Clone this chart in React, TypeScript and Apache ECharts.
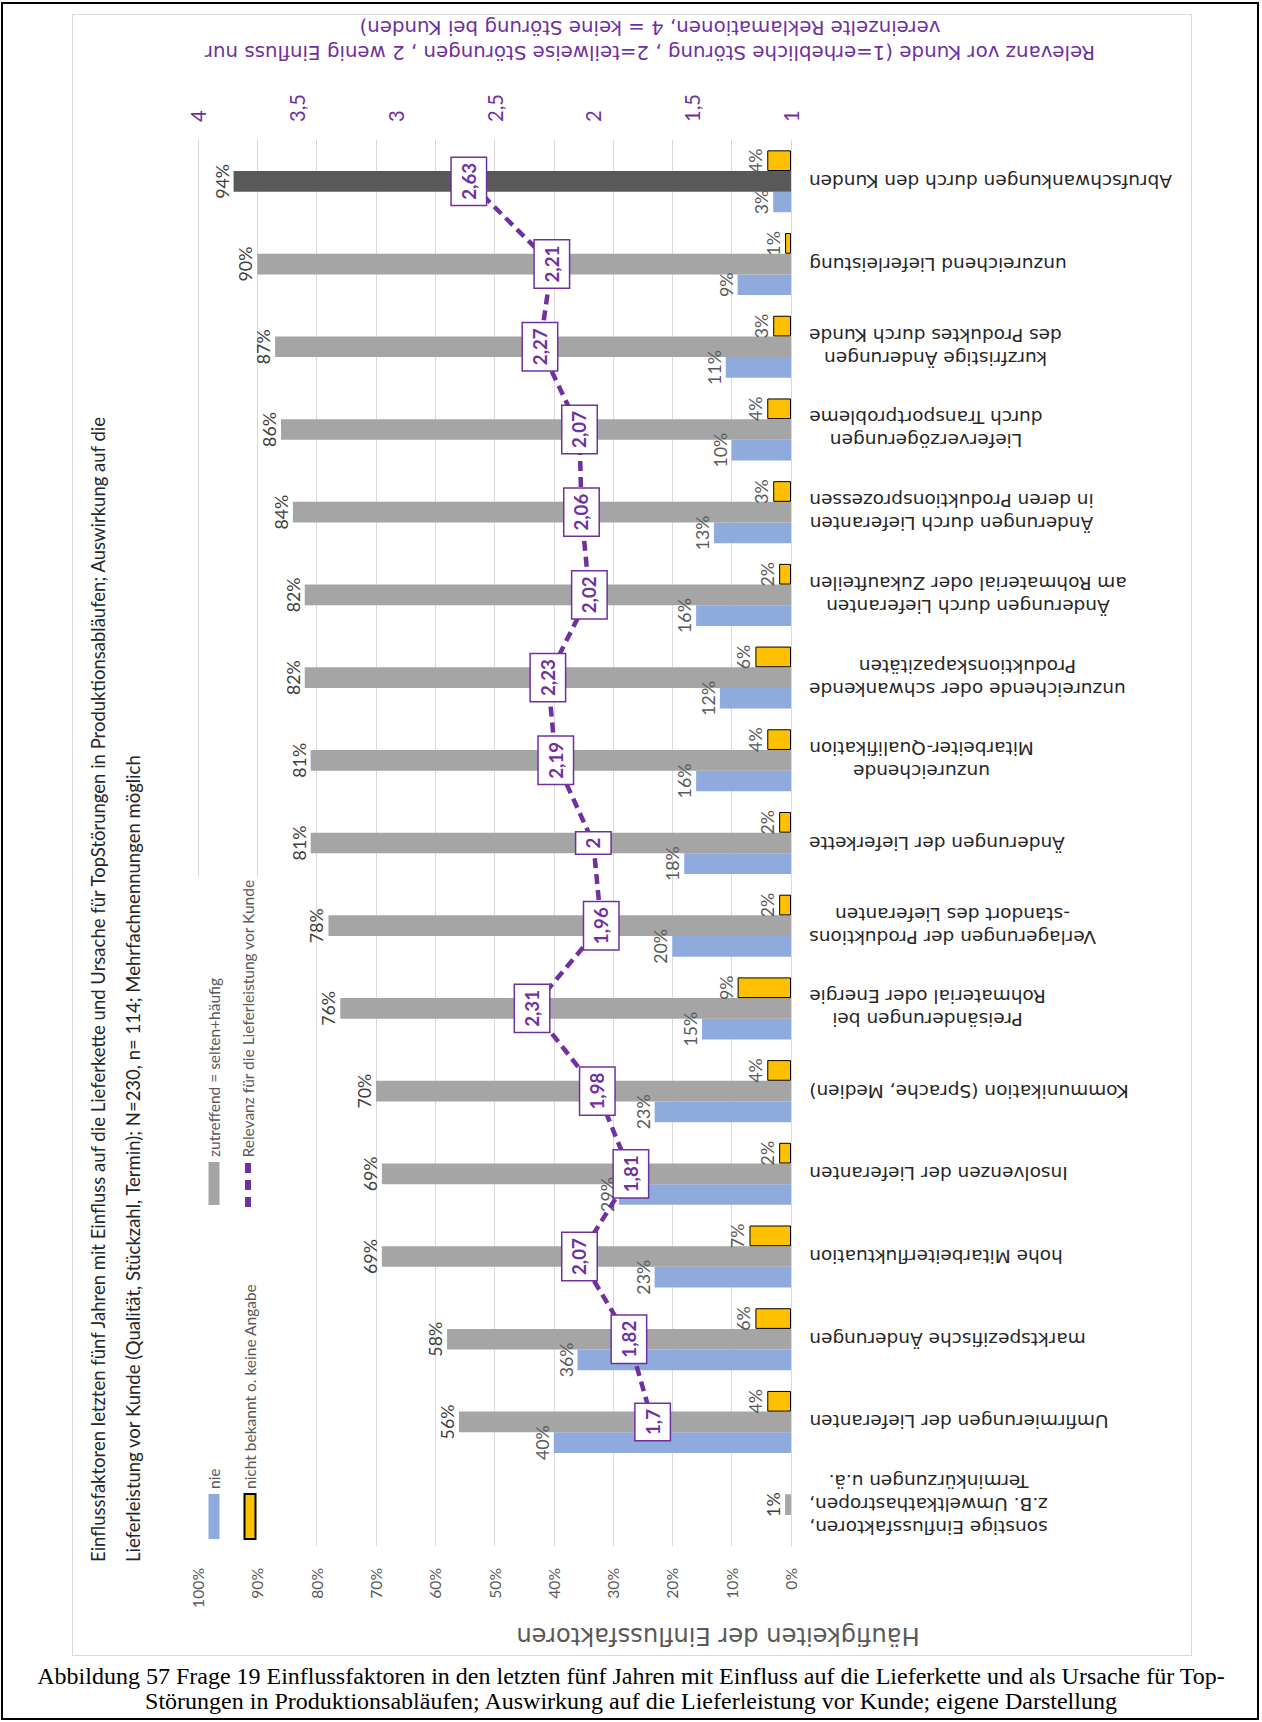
import React, { useEffect, useRef } from "react";
import * as echarts from "echarts";

// ---------- data (original left-to-right order of the column chart) ----------
const categories = [
  "sonstige Einflussfaktoren,\nz.B. Umweltkathastropen,\nTerminkürzungen u.ä.",
  "Umfirmierungen der Lieferanten",
  "marktspezifische Änderungen",
  "hohe Mitarbeiterfluktuation",
  "Insolvenzen der Lieferanten",
  "Kommunikation (Sprache, Medien)",
  "Preisänderungen bei\nRohmaterial oder Energie",
  "Verlagerungen der Produktions\n-standort des Lieferanten",
  "Änderungen der Lieferkette",
  "unzureichende\nMitarbeiter-Qualifikation",
  "unzureichende oder schwankende\nProduktionskapazitäten",
  "Änderungen durch Lieferanten\nam Rohmaterial oder Zukaufteilen",
  "Änderungen durch Lieferanten\nin deren Produktionsprozessen",
  "Lieferverzögerungen\ndurch Transportprobleme",
  "kurzfristige Änderungen\ndes Produktes durch Kunde",
  "unzureichend Lieferleistung",
  "Abrufschwankungen durch den Kunden",
];
const nie = [null, 40, 36, 23, 29, 23, 15, 20, 18, 16, 12, 16, 13, 10, 11, 9, 3];
const zutreffend = [1, 56, 58, 69, 69, 70, 76, 78, 81, 81, 82, 82, 84, 86, 87, 90, 94];
const unbekannt = [null, 4, 6, 7, 2, 4, 9, 2, 2, 4, 6, 2, 3, 4, 3, 1, 4];
const relevanz = [null, 1.7, 1.82, 2.07, 1.81, 1.98, 2.31, 1.96, 2, 2.19, 2.23, 2.02, 2.06, 2.07, 2.27, 2.21, 2.63];
const highlightIndex = 16;

const SERIES_NAMES = [
  "nie",
  "zutreffend = selten+häufig",
  "nicht bekannt o. keine Angabe",
  "Relevanz für die Lieferleistung vor Kunde",
];
const TITLE_LINES = [
  "Einflussfaktoren letzten fünf Jahren mit Einfluss auf die Lieferkette und Ursache für TopStörungen in Produktionsabläufen; Auswirkung auf die",
  "Lieferleistung vor Kunde (Qualität, Stückzahl, Termin); N=230, n= 114; Mehrfachnennungen möglich",
];
const AXIS1_NAME = "Häufigkeiten der Einflussfaktoren";
const AXIS2_NAME = [
  "Relevanz vor Kunde (1=erhebliche Störung , 2=teilweise Störungen , 2 wenig Einfluss nur",
  "vereinzelte Reklamationen, 4 = keine Störung bei Kunden)",
];
const CAPTION = [
  "Abbildung 57 Frage 19 Einflussfaktoren in den letzten fünf Jahren mit Einfluss auf die Lieferkette und als Ursache für Top-",
  "Störungen in Produktionsabläufen; Auswirkung auf die Lieferleistung vor Kunde; eigene Darstellung",
];

// ---------- layout ----------
const W_ORIG = 1642; // chart width before rotation (= picture height)
const H_ORIG = 1120; // chart height before rotation (= picture width)
const X0 = 72;
const Y0 = 14;

const CAL = "Lato, 'Liberation Sans', sans-serif";
const VER = "'DejaVu Sans', Verdana, sans-serif";
const SERIF = "'Liberation Serif', 'Times New Roman', serif";
const PURPLE = "#7030A0";

let _ctx: CanvasRenderingContext2D | null = null;
function measure(text: string, font: string): number {
  if (!_ctx) _ctx = document.createElement("canvas").getContext("2d");
  _ctx!.font = font;
  return _ctx!.measureText(text).width;
}
function fit(text: string, family: string, target: number, weight = "normal"): number {
  const w = measure(text, `${weight} 100px ${family}`);
  return Math.round((1000 * target) / w) / 10;
}

const comma = (v: number) => String(v).replace(".", ",");

export default function App() {
  const ref = useRef<HTMLDivElement>(null);

  const captionSize = fit(CAPTION[0], SERIF, 1188);

  useEffect(() => {
    const chart = echarts.init(ref.current!, null, { renderer: "svg" });

    const titleSize = fit(TITLE_LINES[0], CAL, 1147);
    const catSize = fit("unzureichend Lieferleistung", VER, 257);
    const axis2NameSize = fit(AXIS2_NAME[0], VER, 892);
    const axis1NameSize = fit(AXIS1_NAME, VER, 404);
    const leftTickSize = fit("100%", CAL, 40);
    const rightTickSize = fit("3,5", CAL, 28);
    const barLabelSize = fit("94%", CAL, 35);
    const lineLabelSize = fit("2,63", CAL, 37, "bold");
    const legendSize = fit("nicht bekannt o. keine Angabe", CAL, 205);

    const rich: Record<string, any> = {};
    categories.forEach((c, i) => {
      const lines = c.split("\n");
      const w = Math.max(...lines.map((l) => measure(l, `${catSize}px ${VER}`)));
      rich["c" + i] = {
        width: Math.ceil(w) + 2,
        align: "center",
        fontFamily: VER,
        fontSize: catSize,
        color: "#262626",
        lineHeight: 23,
      };
    });

    const barLabel = (color: string) => ({
      show: true,
      position: "top",
      distance: 3,
      formatter: "{c}%",
      color,
      fontFamily: CAL,
      fontSize: barLabelSize,
    });

    const option: any = {
      animation: false,
      backgroundColor: "#fff",
      title: {
        text: TITLE_LINES.join("\n"),
        left: 94,
        top: 8,
        padding: 0,
        textStyle: {
          fontFamily: CAL,
          fontSize: titleSize,
          fontWeight: "normal",
          color: "#262626",
          lineHeight: 35,
        },
      },
      legend: [
        {
          orient: "vertical",
          left: 116,
          top: 134,
          padding: 0,
          itemWidth: 45,
          itemHeight: 11,
          itemGap: 20,
          selectedMode: false,
          icon: "rect",
          data: [SERIES_NAMES[0], SERIES_NAMES[2]],
          textStyle: { fontFamily: CAL, fontSize: legendSize, color: "#595959", lineHeight: 11 },
        },
        {
          orient: "vertical",
          left: 451,
          top: 134,
          padding: 0,
          itemWidth: 43,
          itemHeight: 11,
          selectedMode: false,
          icon: "rect",
          data: [SERIES_NAMES[1]],
          textStyle: { fontFamily: CAL, fontSize: legendSize, color: "#595959", lineHeight: 11 },
        },
        {
          orient: "vertical",
          left: 449,
          top: 168,
          padding: 0,
          itemWidth: 45,
          itemHeight: 6,
          selectedMode: false,
          data: [
            {
              name: SERIES_NAMES[3],
              icon: "path://M0,0H10V6H0Z M17,0H27V6H17Z M34,0H44V6H34Z",
            },
          ],
          textStyle: { fontFamily: CAL, fontSize: legendSize, color: "#595959", lineHeight: 6 },
        },
      ],
      grid: { left: 110, right: W_ORIG - 1516, top: 126, bottom: H_ORIG - 719, containLabel: false },
      xAxis: {
        type: "category",
        data: categories,
        axisLine: { lineStyle: { color: "#d9d9d9", width: 1 } },
        axisTick: { show: false },
        axisLabel: {
          interval: 0,
          rotate: 90,
          margin: 17,
          formatter: (v: string, i: number) =>
            v
              .split("\n")
              .map((l) => `{c${i}|${l}}`)
              .join("\n"),
          rich,
        },
      },
      yAxis: [
        {
          type: "value",
          min: 0,
          max: 100,
          interval: 10,
          axisLine: { show: false },
          axisTick: { show: false },
          splitLine: { lineStyle: { color: "#d9d9d9", width: 1 } },
          axisLabel: {
            formatter: "{value}%",
            margin: 22,
            fontFamily: CAL,
            fontSize: leftTickSize,
            color: "#595959",
          },
        },
        {
          type: "value",
          min: 1,
          max: 4,
          interval: 0.5,
          position: "right",
          axisLine: { show: false },
          axisTick: { show: false },
          splitLine: { show: false },
          axisLabel: {
            formatter: (v: number) => comma(v),
            margin: 18,
            fontFamily: CAL,
            fontSize: rightTickSize,
            color: PURPLE,
          },
        },
      ],
      series: [
        {
          name: SERIES_NAMES[0],
          type: "bar",
          data: nie,
          barGap: "0%",
          barCategoryGap: "25%",
          itemStyle: { color: "#8FAADC" },
          label: barLabel("#595959"),
        },
        {
          name: SERIES_NAMES[1],
          type: "bar",
          data: zutreffend.map((v, i) =>
            i === highlightIndex ? { value: v, itemStyle: { color: "#595959" } } : v
          ),
          barGap: "0%",
          barCategoryGap: "25%",
          itemStyle: { color: "#A5A5A5" },
          label: barLabel("#404040"),
        },
        {
          name: SERIES_NAMES[2],
          type: "bar",
          data: unbekannt,
          barGap: "0%",
          barCategoryGap: "25%",
          itemStyle: { color: "#FFC000", borderColor: "#000", borderWidth: 1 },
          label: barLabel("#595959"),
        },
        {
          name: SERIES_NAMES[3],
          type: "line",
          yAxisIndex: 1,
          data: relevanz,
          symbol: "circle",
          symbolSize: 2,
          z: 5,
          itemStyle: { color: PURPLE },
          lineStyle: { color: PURPLE, width: 4.5, type: [10, 6] },
          label: {
            show: true,
            position: "inside",
            formatter: (p: any) => comma(p.value),
            color: PURPLE,
            fontWeight: "bold",
            fontFamily: CAL,
            fontSize: lineLabelSize,
            lineHeight: 21,
            backgroundColor: "#fff",
            borderColor: PURPLE,
            borderWidth: 1.5,
            padding: [7, 5, 6, 5],
          },
        },
      ],
      graphic: [
        {
          type: "rect",
          z: 3,
          shape: { x: 100, y: 118, width: 680, height: 72 },
          style: { fill: "#fff" },
        },
        {
          type: "text",
          x: 1616,
          y: 578,
          rotation: Math.PI / 2,
          style: {
            text: AXIS2_NAME.join("\n"),
            fill: PURPLE,
            fontFamily: VER,
            fontSize: axis2NameSize,
            lineHeight: 25,
            align: "center",
            verticalAlign: "middle",
          },
        },
        {
          type: "text",
          x: 20,
          y: 646,
          rotation: Math.PI / 2,
          style: {
            text: AXIS1_NAME,
            fill: "#595959",
            fontFamily: VER,
            fontSize: axis1NameSize,
            align: "center",
            verticalAlign: "middle",
          },
        },
      ],
    };

    chart.setOption(option);
    return () => chart.dispose();
  }, []);

  return (
    <div
      style={{
        position: "absolute",
        left: 0,
        top: 0,
        width: 1262,
        height: 1722,
        background: "#fff",
        overflow: "hidden",
      }}
    >
      <div
        style={{
          position: "absolute",
          left: 1,
          top: 2,
          width: 1258,
          height: 1718,
          border: "2px solid #000",
          boxSizing: "border-box",
        }}
      />
      <div
        ref={ref}
        style={{
          position: "absolute",
          left: 0,
          top: 0,
          width: W_ORIG,
          height: H_ORIG,
          transformOrigin: "0 0",
          transform: `translate(${X0}px, ${Y0 + W_ORIG}px) rotate(-90deg)`,
        }}
      />
      <div
        style={{
          position: "absolute",
          left: X0,
          top: Y0,
          width: H_ORIG,
          height: W_ORIG,
          border: "1px solid #d9d9d9",
          boxSizing: "border-box",
          pointerEvents: "none",
        }}
      />
      <div
        style={{
          position: "absolute",
          left: 0,
          top: 1664,
          width: 1262,
          textAlign: "center",
          fontFamily: SERIF,
          fontSize: captionSize,
          lineHeight: "25px",
          color: "#000",
        }}
      >
        <div>{CAPTION[0]}</div>
        <div>{CAPTION[1]}</div>
      </div>
    </div>
  );
}
